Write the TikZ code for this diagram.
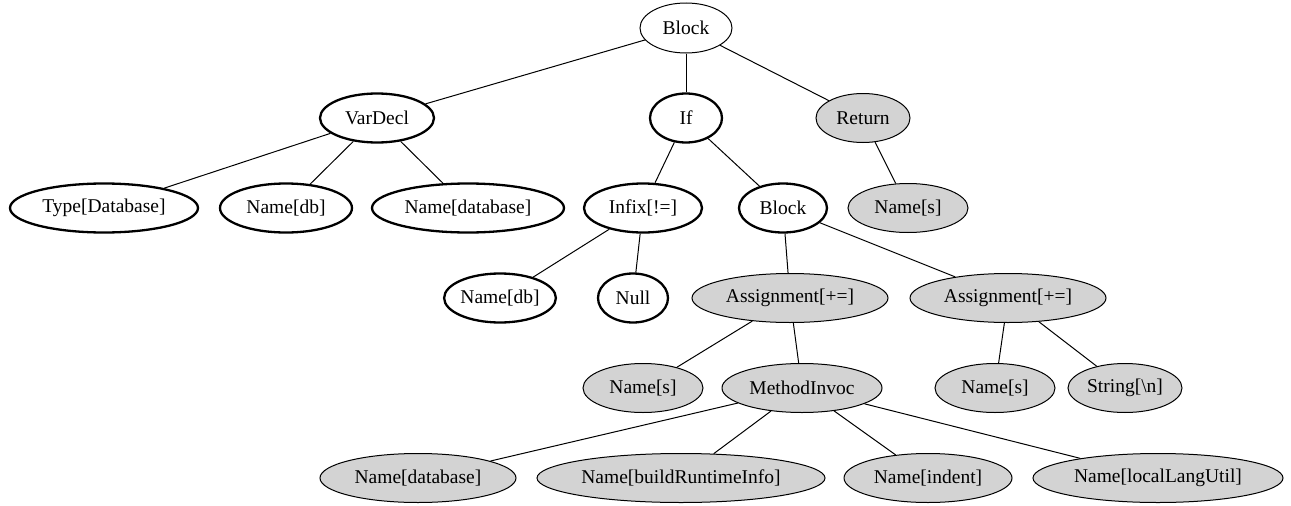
\documentclass[tikz,border=0pt]{standalone}
\usepackage{fontspec}
\setmainfont{Liberation Serif}
\usetikzlibrary{shapes.geometric}
\definecolor{gfill}{HTML}{D3D3D3}
\tikzset{
  nd/.style={ellipse, draw=black, inner sep=0pt, minimum height=49pt, font=\fontsize{19.5}{23}\selectfont},
  thinnd/.style={nd, line width=1pt},
  boldnd/.style={nd, line width=2.3pt},
  graynd/.style={nd, line width=1pt, fill=gfill},
  edge/.style={line width=1pt, draw=black}
}
\begin{document}
\begin{tikzpicture}[x=1pt, y=-1pt]
\useasboundingbox (0,0) rectangle (1291,506);
% row 1
\node[thinnd, minimum width=92pt, minimum height=50pt] (root) at (686,28) {Block};
% row 2
\node[boldnd, minimum width=114pt] (vardecl) at (377,118) {VarDecl};
\node[boldnd, minimum width=72pt] (if) at (686,118) {If};
\node[graynd, minimum width=94pt] (ret) at (863,118) {Return};
% row 3
\node[boldnd, minimum width=188pt] (type) at (104,208) {Type[Database]};
\node[boldnd, minimum width=132pt] (namedb) at (286,208) {Name[db]};
\node[boldnd, minimum width=192pt] (namedatabase) at (468,208) {Name[database]};
\node[boldnd, minimum width=118pt] (infix) at (643,208) {Infix[!=]};
\node[boldnd, minimum width=88pt] (block) at (783,208) {Block};
\node[graynd, minimum width=120pt] (names) at (908,208) {Name[s]};
% row 4
\node[boldnd, minimum width=110pt] (namedbb) at (500,298) {Name[db]};
\node[boldnd, minimum width=70pt] (null) at (633,298) {Null};
\node[graynd, minimum width=196pt] (assignA) at (790,298) {Assignment[+=]};
\node[graynd, minimum width=196pt] (assignB) at (1008,298) {Assignment[+=]};
% row 5
\node[graynd, minimum width=120pt] (namesA) at (643,388) {Name[s]};
\node[graynd, minimum width=160pt] (method) at (802,388) {MethodInvoc};
\node[graynd, minimum width=120pt] (namesB) at (995,388) {Name[s]};
\node[graynd, minimum width=114pt] (string) at (1125,388) {String[\textbackslash n]};
% row 6
\node[graynd, minimum width=196pt] (mdatabase) at (418,478) {Name[database]};
\node[graynd, minimum width=288pt] (mbuild) at (681,478) {Name[buildRuntimeInfo]};
\node[graynd, minimum width=168pt] (mindent) at (928,478) {Name[indent]};
\node[graynd, minimum width=250pt] (mlocal) at (1158,478) {Name[localLangUtil]};
% edges
\draw[edge] (root) -- (vardecl);
\draw[edge] (root) -- (if);
\draw[edge] (root) -- (ret);
\draw[edge] (vardecl) -- (type);
\draw[edge] (vardecl) -- (namedb);
\draw[edge] (vardecl) -- (namedatabase);
\draw[edge] (if) -- (infix);
\draw[edge] (if) -- (block);
\draw[edge] (ret) -- (names);
\draw[edge] (infix) -- (namedbb);
\draw[edge] (infix) -- (null);
\draw[edge] (block) -- (assignA);
\draw[edge] (block) -- (assignB);
\draw[edge] (assignA) -- (namesA);
\draw[edge] (assignA) -- (method);
\draw[edge] (assignB) -- (namesB);
\draw[edge] (assignB) -- (string);
\draw[edge] (method) -- (mdatabase);
\draw[edge] (method) -- (mbuild);
\draw[edge] (method) -- (mindent);
\draw[edge] (method) -- (mlocal);
\end{tikzpicture}
\end{document}
